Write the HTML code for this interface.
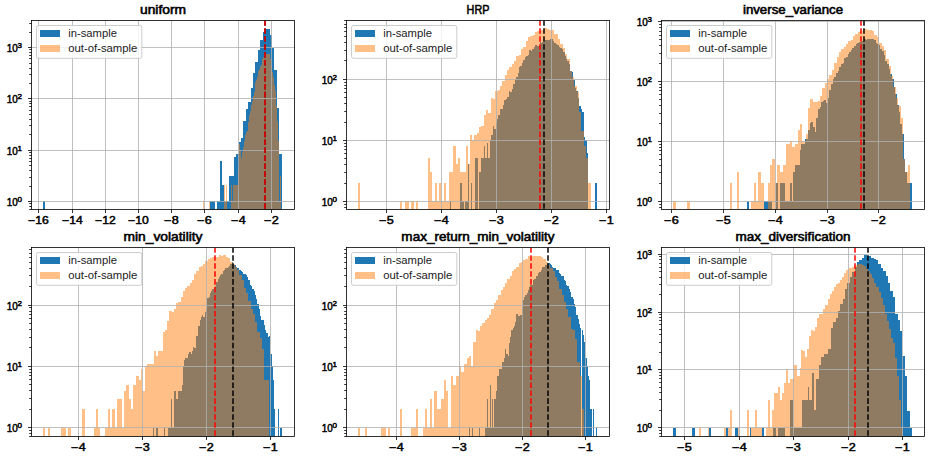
<!DOCTYPE html><html><head><meta charset="utf-8"><style>html,body{margin:0;padding:0;background:#fff}svg{display:block}text{font-family:"Liberation Sans",sans-serif;fill:#000;stroke:#000;stroke-width:0.45px}text.lg{stroke:none;fill:#1c1c1c}text.tt{stroke-width:0.55px}</style></head><body>
<svg width="936" height="456" viewBox="0 0 936 456">
<rect width="936" height="456" fill="#fff"/>
<g>
<clipPath id="c0"><rect x="31.5" y="20.5" width="263" height="189"/></clipPath>
<g clip-path="url(#c0)">
<path d="M43 211.5V201H45V211.5ZM210 211.5V201H212V211.5ZM212 211.5V201H215V211.5ZM217 211.5V201H220V211.5ZM220 211.5V161H222V211.5ZM222 211.5V185H224V211.5ZM224 211.5V201H227V211.5ZM227 211.5V201H229V211.5ZM229 211.5V176H231V211.5ZM231 211.5V176H234V211.5ZM234 211.5V157H236V211.5ZM236 211.5V154H239V211.5ZM239 211.5V142H241V211.5ZM241 211.5V138H243V211.5ZM243 211.5V121H246V211.5ZM246 211.5V109H248V211.5ZM248 211.5V102H251V211.5ZM251 211.5V88H253V211.5ZM253 211.5V73H255V211.5ZM255 211.5V62H258V211.5ZM258 211.5V50H260V211.5ZM260 211.5V40H263V211.5ZM263 211.5V32H265V211.5ZM265 211.5V29H267V211.5ZM267 211.5V29H270V211.5ZM270 211.5V35H272V211.5ZM272 211.5V48H274V211.5ZM274 211.5V70H277V211.5ZM277 211.5V108H279V211.5ZM279 211.5V154H282V211.5Z" fill="#1f77b4"/>
<path d="M238 211.5V170H239V211.5ZM239 211.5V144H240V211.5ZM240 211.5V150H241V211.5ZM241 211.5V158H242V211.5ZM242 211.5V152H243V211.5ZM243 211.5V147H244V211.5ZM244 211.5V141H245V211.5ZM245 211.5V135H246V211.5ZM246 211.5V132H247V211.5ZM247 211.5V131H248V211.5ZM248 211.5V122H249V211.5ZM249 211.5V115H250V211.5ZM250 211.5V111H251V211.5ZM251 211.5V105H252V211.5ZM252 211.5V101H253V211.5ZM253 211.5V96H254V211.5ZM254 211.5V92H255V211.5ZM255 211.5V82H256V211.5ZM256 211.5V80H257V211.5ZM257 211.5V77H258V211.5ZM258 211.5V71H259V211.5ZM259 211.5V69H260V211.5ZM260 211.5V66H261V211.5ZM261 211.5V65H262V211.5ZM262 211.5V59H263V211.5ZM263 211.5V57H264V211.5ZM264 211.5V55H265V211.5ZM265 211.5V54H266V211.5ZM266 211.5V54H267V211.5ZM267 211.5V54H268V211.5ZM268 211.5V54H269V211.5ZM269 211.5V54H270V211.5ZM270 211.5V59H271V211.5ZM271 211.5V65H272V211.5ZM272 211.5V72H273V211.5ZM273 211.5V77H274V211.5ZM274 211.5V85H275V211.5ZM275 211.5V90H276V211.5ZM276 211.5V106H277V211.5ZM277 211.5V121H278V211.5ZM278 211.5V141H279V211.5ZM279 211.5V201H280V211.5ZM280 211.5V176H281V211.5ZM231 211.5V201H238V211.5ZM231 211.5V185H232V211.5ZM233 211.5V185H238V211.5ZM203 211.5V201H204V211.5ZM209 211.5V201H210V211.5ZM224 211.5V201H227V211.5ZM224 211.5V185H225V211.5ZM226 211.5V185H227V211.5Z" fill="#ff7f0e" fill-opacity="0.5"/>
<path d="M38.5 20.5V209.5M72.5 20.5V209.5M105.5 20.5V209.5M138.5 20.5V209.5M171.5 20.5V209.5M204.5 20.5V209.5M238.5 20.5V209.5M271.5 20.5V209.5M31.5 201.5H294.5M31.5 150.5H294.5M31.5 98.5H294.5M31.5 47.5H294.5" stroke="#b0b0b0" stroke-width="0.8" fill="none"/>
<path d="M265 208.7V20.5" stroke="#000" stroke-width="1.5" stroke-dasharray="5.55 2.4" fill="none"/>
<path d="M265 208.7V20.5" stroke="#ff0000" stroke-width="1.5" stroke-dasharray="5.55 2.4" fill="none"/>
</g>
<text x="28.21" y="223.6" font-size="10" textLength="20.57" lengthAdjust="spacingAndGlyphs">−16</text>
<text x="62.21" y="223.6" font-size="10" textLength="20.57" lengthAdjust="spacingAndGlyphs">−14</text>
<text x="95.21" y="223.6" font-size="10" textLength="20.57" lengthAdjust="spacingAndGlyphs">−12</text>
<text x="128.21" y="223.6" font-size="10" textLength="20.57" lengthAdjust="spacingAndGlyphs">−10</text>
<text x="164.31" y="223.6" font-size="10" textLength="14.37" lengthAdjust="spacingAndGlyphs">−8</text>
<text x="197.31" y="223.6" font-size="10" textLength="14.37" lengthAdjust="spacingAndGlyphs">−6</text>
<text x="231.31" y="223.6" font-size="10" textLength="14.37" lengthAdjust="spacingAndGlyphs">−4</text>
<text x="264.31" y="223.6" font-size="10" textLength="14.37" lengthAdjust="spacingAndGlyphs">−2</text>
<text x="6.8" y="206" font-size="10" textLength="11.0" lengthAdjust="spacingAndGlyphs">10</text>
<text x="17.6" y="202" font-size="7" textLength="4.45" lengthAdjust="spacingAndGlyphs">0</text>
<text x="6.8" y="155" font-size="10" textLength="11.0" lengthAdjust="spacingAndGlyphs">10</text>
<text x="17.6" y="151" font-size="7" textLength="4.45" lengthAdjust="spacingAndGlyphs">1</text>
<text x="6.8" y="103" font-size="10" textLength="11.0" lengthAdjust="spacingAndGlyphs">10</text>
<text x="17.6" y="99" font-size="7" textLength="4.45" lengthAdjust="spacingAndGlyphs">2</text>
<text x="6.8" y="52" font-size="10" textLength="11.0" lengthAdjust="spacingAndGlyphs">10</text>
<text x="17.6" y="48" font-size="7" textLength="4.45" lengthAdjust="spacingAndGlyphs">3</text>
<path d="M38.5 209.5v3.5M72.5 209.5v3.5M105.5 209.5v3.5M138.5 209.5v3.5M171.5 209.5v3.5M204.5 209.5v3.5M238.5 209.5v3.5M271.5 209.5v3.5M31.5 201.5h-3.5M31.5 150.5h-3.5M31.5 98.5h-3.5M31.5 47.5h-3.5" stroke="#000" stroke-width="0.8" fill="none"/>
<path d="M31.5 209.5h-2.3M31.5 206.5h-2.3M31.5 203.5h-2.3M31.5 186.5h-2.3M31.5 177.5h-2.3M31.5 170.5h-2.3M31.5 165.5h-2.3M31.5 161.5h-2.3M31.5 158.5h-2.3M31.5 155.5h-2.3M31.5 152.5h-2.3M31.5 134.5h-2.3M31.5 125.5h-2.3M31.5 119.5h-2.3M31.5 114.5h-2.3M31.5 110.5h-2.3M31.5 106.5h-2.3M31.5 103.5h-2.3M31.5 101.5h-2.3M31.5 83.5h-2.3M31.5 74.5h-2.3M31.5 68.5h-2.3M31.5 63.5h-2.3M31.5 58.5h-2.3M31.5 55.5h-2.3M31.5 52.5h-2.3M31.5 49.5h-2.3M31.5 32.5h-2.3M31.5 23.5h-2.3" stroke="#000" stroke-width="0.8" fill="none"/>
<rect x="31.5" y="20.5" width="263" height="189" fill="none" stroke="#000" stroke-width="0.8"/>
<text class="tt" x="139.99" y="14.1" font-size="12" textLength="46.03" lengthAdjust="spacingAndGlyphs">uniform</text>
<rect x="36.5" y="25.5" width="105.3" height="32.8" rx="2" ry="2" fill="#fff" fill-opacity="0.8" stroke="#ccc" stroke-width="1"/>
<rect x="40" y="30" width="20" height="7" fill="#1f77b4"/>
<rect x="40" y="45" width="20" height="7" fill="#ff7f0e" fill-opacity="0.5"/>
<text class="lg" x="68.2" y="36.9" font-size="10" textLength="48.82" lengthAdjust="spacingAndGlyphs">in-sample</text>
<text class="lg" x="68.2" y="51.7" font-size="10" textLength="69.22" lengthAdjust="spacingAndGlyphs">out-of-sample</text>
</g>
<g>
<clipPath id="c1"><rect x="346.5" y="20.5" width="263" height="189"/></clipPath>
<g clip-path="url(#c1)">
<path d="M481 211.5V158H482V211.5ZM482 211.5V158H484V211.5ZM484 211.5V146H485V211.5ZM485 211.5V158H487V211.5ZM487 211.5V143H488V211.5ZM488 211.5V158H490V211.5ZM490 211.5V140H491V211.5ZM491 211.5V135H493V211.5ZM493 211.5V126H494V211.5ZM494 211.5V129H496V211.5ZM496 211.5V123H497V211.5ZM497 211.5V119H498V211.5ZM498 211.5V115H500V211.5ZM500 211.5V109H501V211.5ZM501 211.5V109H503V211.5ZM503 211.5V105H504V211.5ZM504 211.5V100H506V211.5ZM506 211.5V99H507V211.5ZM507 211.5V97H509V211.5ZM509 211.5V91H510V211.5ZM510 211.5V92H512V211.5ZM512 211.5V89H513V211.5ZM513 211.5V84H515V211.5ZM515 211.5V80H516V211.5ZM516 211.5V77H518V211.5ZM518 211.5V73H519V211.5ZM519 211.5V67H520V211.5ZM520 211.5V66H522V211.5ZM522 211.5V63H523V211.5ZM523 211.5V60H525V211.5ZM525 211.5V57H526V211.5ZM526 211.5V56H528V211.5ZM528 211.5V55H529V211.5ZM529 211.5V50H531V211.5ZM531 211.5V51H532V211.5ZM532 211.5V49H534V211.5ZM534 211.5V47H535V211.5ZM535 211.5V45H537V211.5ZM537 211.5V46H538V211.5ZM538 211.5V46H540V211.5ZM540 211.5V42H541V211.5ZM541 211.5V43H542V211.5ZM542 211.5V42H544V211.5ZM544 211.5V41H545V211.5ZM545 211.5V40H547V211.5ZM547 211.5V40H548V211.5ZM548 211.5V40H550V211.5ZM550 211.5V39H551V211.5ZM551 211.5V39H553V211.5ZM553 211.5V41H554V211.5ZM554 211.5V43H556V211.5ZM556 211.5V44H557V211.5ZM557 211.5V45H559V211.5ZM559 211.5V47H560V211.5ZM560 211.5V48H562V211.5ZM562 211.5V49H563V211.5ZM563 211.5V52H565V211.5ZM565 211.5V56H566V211.5ZM566 211.5V59H567V211.5ZM567 211.5V61H569V211.5ZM569 211.5V64H570V211.5ZM570 211.5V71H572V211.5ZM572 211.5V72H573V211.5ZM573 211.5V80H575V211.5ZM575 211.5V88H576V211.5ZM576 211.5V91H578V211.5ZM578 211.5V98H579V211.5ZM579 211.5V106H581V211.5ZM581 211.5V109H582V211.5ZM582 211.5V112H584V211.5ZM584 211.5V137H585V211.5ZM585 211.5V140H587V211.5ZM587 211.5V153H588V211.5ZM450 211.5V201H451V211.5ZM460 211.5V183H462V211.5ZM466 211.5V201H468V211.5ZM462 211.5V201H464V211.5ZM465 211.5V201H466V211.5ZM468 211.5V164H469V211.5ZM471 211.5V183H472V211.5ZM475 211.5V158H478V211.5ZM479 211.5V172H481V211.5ZM595 211.5V183H597V211.5Z" fill="#1f77b4"/>
<path d="M470 211.5V135H472V211.5ZM472 211.5V140H474V211.5ZM474 211.5V135H477V211.5ZM477 211.5V133H479V211.5ZM479 211.5V127H481V211.5ZM481 211.5V126H484V211.5ZM484 211.5V115H486V211.5ZM486 211.5V110H488V211.5ZM488 211.5V113H491V211.5ZM491 211.5V98H493V211.5ZM493 211.5V99H495V211.5ZM495 211.5V91H498V211.5ZM498 211.5V90H500V211.5ZM500 211.5V86H502V211.5ZM502 211.5V81H505V211.5ZM505 211.5V75H507V211.5ZM507 211.5V70H509V211.5ZM509 211.5V67H512V211.5ZM512 211.5V64H514V211.5ZM514 211.5V61H516V211.5ZM516 211.5V56H519V211.5ZM519 211.5V55H521V211.5ZM521 211.5V49H523V211.5ZM523 211.5V47H526V211.5ZM526 211.5V41H528V211.5ZM528 211.5V37H530V211.5ZM530 211.5V36H533V211.5ZM533 211.5V35H535V211.5ZM535 211.5V32H537V211.5ZM537 211.5V31H540V211.5ZM540 211.5V30H542V211.5ZM542 211.5V30H544V211.5ZM544 211.5V28H547V211.5ZM547 211.5V29H549V211.5ZM549 211.5V30H551V211.5ZM551 211.5V30H554V211.5ZM554 211.5V34H556V211.5ZM556 211.5V34H558V211.5ZM558 211.5V39H560V211.5ZM560 211.5V44H563V211.5ZM563 211.5V48H565V211.5ZM565 211.5V54H567V211.5ZM567 211.5V59H570V211.5ZM570 211.5V71H572V211.5ZM572 211.5V77H574V211.5ZM574 211.5V86H577V211.5ZM577 211.5V92H579V211.5ZM579 211.5V112H581V211.5ZM581 211.5V131H584V211.5ZM584 211.5V146H586V211.5ZM586 211.5V158H588V211.5ZM588 211.5V183H591V211.5ZM358 211.5V183H360V211.5ZM428 211.5V158H430V211.5ZM430 211.5V172H432V211.5ZM432 211.5V201H435V211.5ZM435 211.5V183H437V211.5ZM437 211.5V201H439V211.5ZM439 211.5V183H441V211.5ZM441 211.5V201H444V211.5ZM444 211.5V183H446V211.5ZM446 211.5V201H449V211.5ZM449 211.5V172H453V211.5ZM453 211.5V146H456V211.5ZM456 211.5V164H458V211.5ZM458 211.5V158H460V211.5ZM460 211.5V172H466V211.5ZM466 211.5V146H468V211.5ZM468 211.5V164H470V211.5ZM400 211.5V201H402V211.5ZM405 211.5V201H409V211.5ZM411 211.5V201H414V211.5ZM416 211.5V201H418V211.5Z" fill="#ff7f0e" fill-opacity="0.5"/>
<path d="M386.5 20.5V209.5M441.5 20.5V209.5M496.5 20.5V209.5M551.5 20.5V209.5M606.5 20.5V209.5M346.5 201.5H609.5M346.5 140.5H609.5M346.5 79.5H609.5" stroke="#b0b0b0" stroke-width="0.8" fill="none"/>
<path d="M544 208.7V20.5" stroke="#000" stroke-width="1.5" stroke-dasharray="5.55 2.4" fill="none"/>
<path d="M540 208.7V20.5" stroke="#ff0000" stroke-width="1.5" stroke-dasharray="5.55 2.4" fill="none"/>
</g>
<text x="379.31" y="223.6" font-size="10" textLength="14.37" lengthAdjust="spacingAndGlyphs">−5</text>
<text x="434.31" y="223.6" font-size="10" textLength="14.37" lengthAdjust="spacingAndGlyphs">−4</text>
<text x="489.31" y="223.6" font-size="10" textLength="14.37" lengthAdjust="spacingAndGlyphs">−3</text>
<text x="544.31" y="223.6" font-size="10" textLength="14.37" lengthAdjust="spacingAndGlyphs">−2</text>
<text x="599.31" y="223.6" font-size="10" textLength="14.37" lengthAdjust="spacingAndGlyphs">−1</text>
<text x="321.8" y="206" font-size="10" textLength="11.0" lengthAdjust="spacingAndGlyphs">10</text>
<text x="332.6" y="202" font-size="7" textLength="4.45" lengthAdjust="spacingAndGlyphs">0</text>
<text x="321.8" y="145" font-size="10" textLength="11.0" lengthAdjust="spacingAndGlyphs">10</text>
<text x="332.6" y="141" font-size="7" textLength="4.45" lengthAdjust="spacingAndGlyphs">1</text>
<text x="321.8" y="84" font-size="10" textLength="11.0" lengthAdjust="spacingAndGlyphs">10</text>
<text x="332.6" y="80" font-size="7" textLength="4.45" lengthAdjust="spacingAndGlyphs">2</text>
<path d="M386.5 209.5v3.5M441.5 209.5v3.5M496.5 209.5v3.5M551.5 209.5v3.5M606.5 209.5v3.5M346.5 201.5h-3.5M346.5 140.5h-3.5M346.5 79.5h-3.5" stroke="#000" stroke-width="0.8" fill="none"/>
<path d="M346.5 207.5h-2.3M346.5 204.5h-2.3M346.5 183.5h-2.3M346.5 172.5h-2.3M346.5 164.5h-2.3M346.5 158.5h-2.3M346.5 153.5h-2.3M346.5 149.5h-2.3M346.5 146.5h-2.3M346.5 143.5h-2.3M346.5 122.5h-2.3M346.5 111.5h-2.3M346.5 103.5h-2.3M346.5 97.5h-2.3M346.5 92.5h-2.3M346.5 88.5h-2.3M346.5 85.5h-2.3M346.5 82.5h-2.3M346.5 60.5h-2.3M346.5 50.5h-2.3M346.5 42.5h-2.3M346.5 36.5h-2.3M346.5 31.5h-2.3M346.5 27.5h-2.3M346.5 24.5h-2.3M346.5 20.5h-2.3" stroke="#000" stroke-width="0.8" fill="none"/>
<rect x="346.5" y="20.5" width="263" height="189" fill="none" stroke="#000" stroke-width="0.8"/>
<text class="tt" x="466.61" y="14.1" font-size="12" textLength="22.79" lengthAdjust="spacingAndGlyphs">HRP</text>
<rect x="351.5" y="25.5" width="105.3" height="32.8" rx="2" ry="2" fill="#fff" fill-opacity="0.8" stroke="#ccc" stroke-width="1"/>
<rect x="355" y="30" width="20" height="7" fill="#1f77b4"/>
<rect x="355" y="45" width="20" height="7" fill="#ff7f0e" fill-opacity="0.5"/>
<text class="lg" x="383.2" y="36.9" font-size="10" textLength="48.82" lengthAdjust="spacingAndGlyphs">in-sample</text>
<text class="lg" x="383.2" y="51.7" font-size="10" textLength="69.22" lengthAdjust="spacingAndGlyphs">out-of-sample</text>
</g>
<g>
<clipPath id="c2"><rect x="661.5" y="20.5" width="263" height="189"/></clipPath>
<g clip-path="url(#c2)">
<path d="M800 211.5V150H801V211.5ZM801 211.5V144H803V211.5ZM803 211.5V144H805V211.5ZM805 211.5V139H806V211.5ZM806 211.5V139H808V211.5ZM808 211.5V130H810V211.5ZM810 211.5V123H811V211.5ZM811 211.5V122H813V211.5ZM813 211.5V127H815V211.5ZM815 211.5V132H816V211.5ZM816 211.5V118H818V211.5ZM818 211.5V109H820V211.5ZM820 211.5V107H821V211.5ZM821 211.5V102H823V211.5ZM823 211.5V101H824V211.5ZM824 211.5V100H826V211.5ZM826 211.5V103H828V211.5ZM828 211.5V98H829V211.5ZM829 211.5V90H831V211.5ZM831 211.5V84H833V211.5ZM833 211.5V79H834V211.5ZM834 211.5V77H836V211.5ZM836 211.5V73H838V211.5ZM838 211.5V71H839V211.5ZM839 211.5V67H841V211.5ZM841 211.5V64H843V211.5ZM843 211.5V63H844V211.5ZM844 211.5V58H846V211.5ZM846 211.5V57H848V211.5ZM848 211.5V54H849V211.5ZM849 211.5V52H851V211.5ZM851 211.5V50H852V211.5ZM852 211.5V48H854V211.5ZM854 211.5V46H856V211.5ZM856 211.5V44H857V211.5ZM857 211.5V43H859V211.5ZM859 211.5V42H861V211.5ZM861 211.5V42H862V211.5ZM862 211.5V41H864V211.5ZM864 211.5V39H866V211.5ZM866 211.5V40H867V211.5ZM867 211.5V39H869V211.5ZM869 211.5V39H871V211.5ZM871 211.5V39H872V211.5ZM872 211.5V39H874V211.5ZM874 211.5V40H876V211.5ZM876 211.5V43H877V211.5ZM877 211.5V44H879V211.5ZM879 211.5V45H880V211.5ZM880 211.5V49H882V211.5ZM882 211.5V51H884V211.5ZM884 211.5V55H885V211.5ZM885 211.5V61H887V211.5ZM887 211.5V64H889V211.5ZM889 211.5V69H890V211.5ZM890 211.5V74H892V211.5ZM892 211.5V79H894V211.5ZM894 211.5V87H895V211.5ZM895 211.5V94H897V211.5ZM897 211.5V105H899V211.5ZM899 211.5V112H900V211.5ZM900 211.5V124H902V211.5ZM902 211.5V134H904V211.5ZM904 211.5V159H905V211.5ZM905 211.5V172H907V211.5ZM907 211.5V183H909V211.5ZM909 211.5V183H910V211.5ZM747 211.5V201H749V211.5ZM764 211.5V201H772V211.5ZM776 211.5V183H778V211.5ZM780 211.5V183H785V211.5ZM785 211.5V201H790V211.5ZM790 211.5V183H792V211.5ZM792 211.5V201H793V211.5ZM793 211.5V172H795V211.5ZM795 211.5V165H800V211.5ZM910 211.5V183H912V211.5Z" fill="#1f77b4"/>
<path d="M808 211.5V108H810V211.5ZM810 211.5V99H813V211.5ZM813 211.5V102H815V211.5ZM815 211.5V102H818V211.5ZM818 211.5V101H820V211.5ZM820 211.5V96H822V211.5ZM822 211.5V88H825V211.5ZM825 211.5V83H827V211.5ZM827 211.5V79H829V211.5ZM829 211.5V75H832V211.5ZM832 211.5V70H834V211.5ZM834 211.5V63H837V211.5ZM837 211.5V57H839V211.5ZM839 211.5V52H841V211.5ZM841 211.5V49H844V211.5ZM844 211.5V47H846V211.5ZM846 211.5V44H848V211.5ZM848 211.5V41H851V211.5ZM851 211.5V40H853V211.5ZM853 211.5V36H855V211.5ZM855 211.5V34H858V211.5ZM858 211.5V32H860V211.5ZM860 211.5V31H863V211.5ZM863 211.5V29H865V211.5ZM865 211.5V29H867V211.5ZM867 211.5V30H870V211.5ZM870 211.5V30H872V211.5ZM872 211.5V31H874V211.5ZM874 211.5V35H877V211.5ZM877 211.5V37H879V211.5ZM879 211.5V43H882V211.5ZM882 211.5V46H884V211.5ZM884 211.5V50H886V211.5ZM886 211.5V59H889V211.5ZM889 211.5V66H891V211.5ZM891 211.5V76H893V211.5ZM893 211.5V87H896V211.5ZM896 211.5V98H898V211.5ZM898 211.5V106H901V211.5ZM901 211.5V118H903V211.5ZM903 211.5V159H905V211.5ZM905 211.5V172H908V211.5ZM908 211.5V165H910V211.5ZM673 211.5V201H676V211.5ZM687 211.5V201H690V211.5ZM730 211.5V183H732V211.5ZM737 211.5V172H739V211.5ZM751 211.5V201H764V211.5ZM768 211.5V201H772V211.5ZM754 211.5V183H756V211.5ZM758 211.5V172H761V211.5ZM761 211.5V183H764V211.5ZM768 211.5V183H770V211.5ZM770 211.5V165H772V211.5ZM772 211.5V159H775V211.5ZM775 211.5V183H777V211.5ZM777 211.5V165H780V211.5ZM780 211.5V172H783V211.5ZM783 211.5V165H786V211.5ZM786 211.5V144H790V211.5ZM790 211.5V141H792V211.5ZM792 211.5V147H795V211.5ZM795 211.5V144H798V211.5ZM798 211.5V130H800V211.5ZM800 211.5V124H802V211.5ZM802 211.5V141H806V211.5ZM806 211.5V134H809V211.5Z" fill="#ff7f0e" fill-opacity="0.5"/>
<path d="M671.5 20.5V209.5M723.5 20.5V209.5M775.5 20.5V209.5M827.5 20.5V209.5M878.5 20.5V209.5M661.5 201.5H924.5M661.5 141.5H924.5M661.5 81.5H924.5M661.5 21.5H924.5" stroke="#b0b0b0" stroke-width="0.8" fill="none"/>
<path d="M864 208.7V20.5" stroke="#000" stroke-width="1.5" stroke-dasharray="5.55 2.4" fill="none"/>
<path d="M861 208.7V20.5" stroke="#ff0000" stroke-width="1.5" stroke-dasharray="5.55 2.4" fill="none"/>
</g>
<text x="664.31" y="223.6" font-size="10" textLength="14.37" lengthAdjust="spacingAndGlyphs">−6</text>
<text x="716.31" y="223.6" font-size="10" textLength="14.37" lengthAdjust="spacingAndGlyphs">−5</text>
<text x="768.31" y="223.6" font-size="10" textLength="14.37" lengthAdjust="spacingAndGlyphs">−4</text>
<text x="820.31" y="223.6" font-size="10" textLength="14.37" lengthAdjust="spacingAndGlyphs">−3</text>
<text x="871.31" y="223.6" font-size="10" textLength="14.37" lengthAdjust="spacingAndGlyphs">−2</text>
<text x="636.8" y="206" font-size="10" textLength="11.0" lengthAdjust="spacingAndGlyphs">10</text>
<text x="647.6" y="202" font-size="7" textLength="4.45" lengthAdjust="spacingAndGlyphs">0</text>
<text x="636.8" y="146" font-size="10" textLength="11.0" lengthAdjust="spacingAndGlyphs">10</text>
<text x="647.6" y="142" font-size="7" textLength="4.45" lengthAdjust="spacingAndGlyphs">1</text>
<text x="636.8" y="86" font-size="10" textLength="11.0" lengthAdjust="spacingAndGlyphs">10</text>
<text x="647.6" y="82" font-size="7" textLength="4.45" lengthAdjust="spacingAndGlyphs">2</text>
<text x="636.8" y="26" font-size="10" textLength="11.0" lengthAdjust="spacingAndGlyphs">10</text>
<text x="647.6" y="22" font-size="7" textLength="4.45" lengthAdjust="spacingAndGlyphs">3</text>
<path d="M671.5 209.5v3.5M723.5 209.5v3.5M775.5 209.5v3.5M827.5 209.5v3.5M878.5 209.5v3.5M661.5 201.5h-3.5M661.5 141.5h-3.5M661.5 81.5h-3.5M661.5 21.5h-3.5" stroke="#000" stroke-width="0.8" fill="none"/>
<path d="M661.5 207.5h-2.3M661.5 204.5h-2.3M661.5 183.5h-2.3M661.5 172.5h-2.3M661.5 165.5h-2.3M661.5 159.5h-2.3M661.5 154.5h-2.3M661.5 150.5h-2.3M661.5 147.5h-2.3M661.5 144.5h-2.3M661.5 123.5h-2.3M661.5 113.5h-2.3M661.5 105.5h-2.3M661.5 99.5h-2.3M661.5 94.5h-2.3M661.5 90.5h-2.3M661.5 87.5h-2.3M661.5 84.5h-2.3M661.5 63.5h-2.3M661.5 53.5h-2.3M661.5 45.5h-2.3M661.5 39.5h-2.3M661.5 35.5h-2.3M661.5 31.5h-2.3M661.5 27.5h-2.3M661.5 24.5h-2.3" stroke="#000" stroke-width="0.8" fill="none"/>
<rect x="661.5" y="20.5" width="263" height="189" fill="none" stroke="#000" stroke-width="0.8"/>
<text class="tt" x="742.94" y="14.1" font-size="12" textLength="100.11" lengthAdjust="spacingAndGlyphs">inverse_variance</text>
<rect x="666.5" y="25.5" width="105.3" height="32.8" rx="2" ry="2" fill="#fff" fill-opacity="0.8" stroke="#ccc" stroke-width="1"/>
<rect x="670" y="30" width="20" height="7" fill="#1f77b4"/>
<rect x="670" y="45" width="20" height="7" fill="#ff7f0e" fill-opacity="0.5"/>
<text class="lg" x="698.2" y="36.9" font-size="10" textLength="48.82" lengthAdjust="spacingAndGlyphs">in-sample</text>
<text class="lg" x="698.2" y="51.7" font-size="10" textLength="69.22" lengthAdjust="spacingAndGlyphs">out-of-sample</text>
</g>
<g>
<clipPath id="c3"><rect x="31.5" y="247.5" width="263" height="189"/></clipPath>
<g clip-path="url(#c3)">
<path d="M180 438.5V391H182V438.5ZM182 438.5V385H183V438.5ZM183 438.5V366H184V438.5ZM184 438.5V360H185V438.5ZM185 438.5V358H187V438.5ZM187 438.5V358H188V438.5ZM188 438.5V354H189V438.5ZM189 438.5V352H191V438.5ZM191 438.5V354H192V438.5ZM192 438.5V351H193V438.5ZM193 438.5V347H194V438.5ZM194 438.5V348H196V438.5ZM196 438.5V336H197V438.5ZM197 438.5V336H198V438.5ZM198 438.5V326H200V438.5ZM200 438.5V320H201V438.5ZM201 438.5V317H202V438.5ZM202 438.5V315H203V438.5ZM203 438.5V317H205V438.5ZM205 438.5V312H206V438.5ZM206 438.5V309H207V438.5ZM207 438.5V298H209V438.5ZM209 438.5V297H210V438.5ZM210 438.5V293H211V438.5ZM211 438.5V291H212V438.5ZM212 438.5V289H214V438.5ZM214 438.5V288H215V438.5ZM215 438.5V286H216V438.5ZM216 438.5V282H218V438.5ZM218 438.5V279H219V438.5ZM219 438.5V277H220V438.5ZM220 438.5V275H221V438.5ZM221 438.5V274H223V438.5ZM223 438.5V271H224V438.5ZM224 438.5V270H225V438.5ZM225 438.5V268H227V438.5ZM227 438.5V268H228V438.5ZM228 438.5V267H229V438.5ZM229 438.5V266H230V438.5ZM230 438.5V264H232V438.5ZM232 438.5V262H233V438.5ZM233 438.5V264H234V438.5ZM234 438.5V265H236V438.5ZM236 438.5V267H237V438.5ZM237 438.5V268H238V438.5ZM238 438.5V268H239V438.5ZM239 438.5V270H241V438.5ZM241 438.5V271H242V438.5ZM242 438.5V272H243V438.5ZM243 438.5V274H245V438.5ZM245 438.5V274H246V438.5ZM246 438.5V275H247V438.5ZM247 438.5V277H248V438.5ZM248 438.5V280H250V438.5ZM250 438.5V285H251V438.5ZM251 438.5V286H252V438.5ZM252 438.5V289H254V438.5ZM254 438.5V291H255V438.5ZM255 438.5V295H256V438.5ZM256 438.5V299H257V438.5ZM257 438.5V304H259V438.5ZM259 438.5V309H260V438.5ZM260 438.5V316H261V438.5ZM261 438.5V320H263V438.5ZM263 438.5V320H264V438.5ZM264 438.5V325H265V438.5ZM265 438.5V330H266V438.5ZM266 438.5V333H268V438.5ZM268 438.5V337H269V438.5ZM269 438.5V336H270V438.5ZM270 438.5V354H272V438.5ZM272 438.5V366H273V438.5ZM273 438.5V380H274V438.5ZM274 438.5V409H275V438.5ZM153 438.5V428H154V438.5ZM156 438.5V428H158V438.5ZM164 438.5V428H165V438.5ZM168 438.5V428H180V438.5ZM171 438.5V399H172V438.5ZM174 438.5V391H176V438.5ZM176 438.5V399H178V438.5ZM178 438.5V391H180V438.5ZM278 438.5V409H279V438.5ZM280 438.5V428H282V438.5Z" fill="#1f77b4"/>
<path d="M145 438.5V366H147V438.5ZM147 438.5V364H149V438.5ZM149 438.5V364H151V438.5ZM151 438.5V364H154V438.5ZM154 438.5V351H156V438.5ZM156 438.5V356H158V438.5ZM158 438.5V351H160V438.5ZM160 438.5V351H163V438.5ZM163 438.5V332H165V438.5ZM165 438.5V330H167V438.5ZM167 438.5V321H169V438.5ZM169 438.5V311H172V438.5ZM172 438.5V312H174V438.5ZM174 438.5V309H176V438.5ZM176 438.5V303H178V438.5ZM178 438.5V302H181V438.5ZM181 438.5V297H183V438.5ZM183 438.5V291H185V438.5ZM185 438.5V288H187V438.5ZM187 438.5V286H190V438.5ZM190 438.5V283H192V438.5ZM192 438.5V280H194V438.5ZM194 438.5V274H196V438.5ZM196 438.5V271H199V438.5ZM199 438.5V267H201V438.5ZM201 438.5V266H203V438.5ZM203 438.5V264H205V438.5ZM205 438.5V261H208V438.5ZM208 438.5V259H210V438.5ZM210 438.5V258H212V438.5ZM212 438.5V257H214V438.5ZM214 438.5V257H217V438.5ZM217 438.5V257H219V438.5ZM219 438.5V255H221V438.5ZM221 438.5V256H223V438.5ZM223 438.5V255H226V438.5ZM226 438.5V257H228V438.5ZM228 438.5V258H230V438.5ZM230 438.5V262H233V438.5ZM233 438.5V264H235V438.5ZM235 438.5V267H237V438.5ZM237 438.5V270H239V438.5ZM239 438.5V275H242V438.5ZM242 438.5V280H244V438.5ZM244 438.5V288H246V438.5ZM246 438.5V293H248V438.5ZM248 438.5V301H251V438.5ZM251 438.5V309H253V438.5ZM253 438.5V314H255V438.5ZM255 438.5V322H257V438.5ZM257 438.5V332H260V438.5ZM260 438.5V338H262V438.5ZM262 438.5V349H264V438.5ZM264 438.5V380H266V438.5ZM266 438.5V380H269V438.5ZM43 438.5V428H45V438.5ZM48 438.5V428H50V438.5ZM61 438.5V428H66V438.5ZM68 438.5V428H71V438.5ZM70 438.5V428H71V438.5ZM82 438.5V409H85V438.5ZM94 438.5V428H100V438.5ZM96 438.5V409H98V438.5ZM105 438.5V428H145V438.5ZM108 438.5V409H110V438.5ZM112 438.5V409H115V438.5ZM117 438.5V399H122V438.5ZM124 438.5V391H126V438.5ZM126 438.5V385H129V438.5ZM129 438.5V399H131V438.5ZM131 438.5V409H133V438.5ZM133 438.5V385H136V438.5ZM136 438.5V376H139V438.5ZM139 438.5V380H141V438.5ZM141 438.5V369H142V438.5ZM142 438.5V391H145V438.5Z" fill="#ff7f0e" fill-opacity="0.5"/>
<path d="M78.5 247.5V436.5M142.5 247.5V436.5M206.5 247.5V436.5M270.5 247.5V436.5M31.5 427.5H294.5M31.5 366.5H294.5M31.5 305.5H294.5" stroke="#b0b0b0" stroke-width="0.8" fill="none"/>
<path d="M233 435.7V247.5" stroke="#000" stroke-width="1.5" stroke-dasharray="5.55 2.4" fill="none"/>
<path d="M215 435.7V247.5" stroke="#ff0000" stroke-width="1.5" stroke-dasharray="5.55 2.4" fill="none"/>
</g>
<text x="71.31" y="450.6" font-size="10" textLength="14.37" lengthAdjust="spacingAndGlyphs">−4</text>
<text x="135.31" y="450.6" font-size="10" textLength="14.37" lengthAdjust="spacingAndGlyphs">−3</text>
<text x="199.31" y="450.6" font-size="10" textLength="14.37" lengthAdjust="spacingAndGlyphs">−2</text>
<text x="263.31" y="450.6" font-size="10" textLength="14.37" lengthAdjust="spacingAndGlyphs">−1</text>
<text x="6.8" y="432" font-size="10" textLength="11.0" lengthAdjust="spacingAndGlyphs">10</text>
<text x="17.6" y="428" font-size="7" textLength="4.45" lengthAdjust="spacingAndGlyphs">0</text>
<text x="6.8" y="371" font-size="10" textLength="11.0" lengthAdjust="spacingAndGlyphs">10</text>
<text x="17.6" y="367" font-size="7" textLength="4.45" lengthAdjust="spacingAndGlyphs">1</text>
<text x="6.8" y="310" font-size="10" textLength="11.0" lengthAdjust="spacingAndGlyphs">10</text>
<text x="17.6" y="306" font-size="7" textLength="4.45" lengthAdjust="spacingAndGlyphs">2</text>
<path d="M78.5 436.5v3.5M142.5 436.5v3.5M206.5 436.5v3.5M270.5 436.5v3.5M31.5 427.5h-3.5M31.5 366.5h-3.5M31.5 305.5h-3.5" stroke="#000" stroke-width="0.8" fill="none"/>
<path d="M31.5 436.5h-2.3M31.5 433.5h-2.3M31.5 430.5h-2.3M31.5 409.5h-2.3M31.5 398.5h-2.3M31.5 390.5h-2.3M31.5 384.5h-2.3M31.5 379.5h-2.3M31.5 375.5h-2.3M31.5 372.5h-2.3M31.5 369.5h-2.3M31.5 347.5h-2.3M31.5 337.5h-2.3M31.5 329.5h-2.3M31.5 323.5h-2.3M31.5 318.5h-2.3M31.5 314.5h-2.3M31.5 311.5h-2.3M31.5 307.5h-2.3M31.5 286.5h-2.3M31.5 275.5h-2.3M31.5 268.5h-2.3M31.5 262.5h-2.3M31.5 257.5h-2.3M31.5 253.5h-2.3M31.5 249.5h-2.3" stroke="#000" stroke-width="0.8" fill="none"/>
<rect x="31.5" y="247.5" width="263" height="189" fill="none" stroke="#000" stroke-width="0.8"/>
<text class="tt" x="123.47" y="241.1" font-size="12" textLength="79.07" lengthAdjust="spacingAndGlyphs">min_volatility</text>
<rect x="36.5" y="252.5" width="105.3" height="32.8" rx="2" ry="2" fill="#fff" fill-opacity="0.8" stroke="#ccc" stroke-width="1"/>
<rect x="40" y="257" width="20" height="7" fill="#1f77b4"/>
<rect x="40" y="272" width="20" height="7" fill="#ff7f0e" fill-opacity="0.5"/>
<text class="lg" x="68.2" y="263.9" font-size="10" textLength="48.82" lengthAdjust="spacingAndGlyphs">in-sample</text>
<text class="lg" x="68.2" y="278.7" font-size="10" textLength="69.22" lengthAdjust="spacingAndGlyphs">out-of-sample</text>
</g>
<g>
<clipPath id="c4"><rect x="346.5" y="247.5" width="263" height="189"/></clipPath>
<g clip-path="url(#c4)">
<path d="M496 438.5V391H497V438.5ZM497 438.5V376H499V438.5ZM499 438.5V369H500V438.5ZM500 438.5V369H501V438.5ZM501 438.5V369H502V438.5ZM502 438.5V362H504V438.5ZM504 438.5V358H505V438.5ZM505 438.5V349H506V438.5ZM506 438.5V354H508V438.5ZM508 438.5V356H509V438.5ZM509 438.5V343H510V438.5ZM510 438.5V337H511V438.5ZM511 438.5V330H513V438.5ZM513 438.5V328H514V438.5ZM514 438.5V326H515V438.5ZM515 438.5V322H516V438.5ZM516 438.5V314H518V438.5ZM518 438.5V316H519V438.5ZM519 438.5V316H520V438.5ZM520 438.5V315H522V438.5ZM522 438.5V307H523V438.5ZM523 438.5V300H524V438.5ZM524 438.5V297H525V438.5ZM525 438.5V295H527V438.5ZM527 438.5V293H528V438.5ZM528 438.5V290H529V438.5ZM529 438.5V287H530V438.5ZM530 438.5V285H532V438.5ZM532 438.5V285H533V438.5ZM533 438.5V280H534V438.5ZM534 438.5V279H536V438.5ZM536 438.5V276H537V438.5ZM537 438.5V276H538V438.5ZM538 438.5V273H539V438.5ZM539 438.5V272H541V438.5ZM541 438.5V270H542V438.5ZM542 438.5V267H543V438.5ZM543 438.5V267H545V438.5ZM545 438.5V265H546V438.5ZM546 438.5V265H547V438.5ZM547 438.5V263H548V438.5ZM548 438.5V263H550V438.5ZM550 438.5V264H551V438.5ZM551 438.5V265H552V438.5ZM552 438.5V267H553V438.5ZM553 438.5V268H555V438.5ZM555 438.5V268H556V438.5ZM556 438.5V270H557V438.5ZM557 438.5V270H559V438.5ZM559 438.5V273H560V438.5ZM560 438.5V274H561V438.5ZM561 438.5V276H562V438.5ZM562 438.5V276H564V438.5ZM564 438.5V280H565V438.5ZM565 438.5V281H566V438.5ZM566 438.5V285H567V438.5ZM567 438.5V286H569V438.5ZM569 438.5V289H570V438.5ZM570 438.5V292H571V438.5ZM571 438.5V297H573V438.5ZM573 438.5V299H574V438.5ZM574 438.5V304H575V438.5ZM575 438.5V307H576V438.5ZM576 438.5V315H578V438.5ZM578 438.5V319H579V438.5ZM579 438.5V324H580V438.5ZM580 438.5V328H581V438.5ZM582 438.5V330H583V438.5ZM583 438.5V335H584V438.5ZM584 438.5V342H585V438.5ZM585 438.5V358H587V438.5ZM587 438.5V366H588V438.5ZM588 438.5V376H589V438.5ZM589 438.5V380H590V438.5ZM590 438.5V409H592V438.5ZM469 438.5V428H470V438.5ZM472 438.5V428H473V438.5ZM479 438.5V428H480V438.5ZM485 438.5V428H496V438.5ZM487 438.5V399H488V438.5ZM490 438.5V385H491V438.5ZM492 438.5V399H493V438.5ZM494 438.5V399H496V438.5ZM593 438.5V409H594V438.5ZM596 438.5V428H597V438.5Z" fill="#1f77b4"/>
<path d="M464 438.5V364H467V438.5ZM467 438.5V358H469V438.5ZM469 438.5V356H471V438.5ZM471 438.5V366H473V438.5ZM473 438.5V342H476V438.5ZM476 438.5V330H478V438.5ZM478 438.5V331H480V438.5ZM480 438.5V326H482V438.5ZM482 438.5V323H485V438.5ZM485 438.5V320H487V438.5ZM487 438.5V318H489V438.5ZM489 438.5V315H491V438.5ZM491 438.5V309H494V438.5ZM494 438.5V303H496V438.5ZM496 438.5V300H498V438.5ZM498 438.5V295H501V438.5ZM501 438.5V290H503V438.5ZM503 438.5V287H505V438.5ZM505 438.5V283H507V438.5ZM507 438.5V279H510V438.5ZM510 438.5V276H512V438.5ZM512 438.5V271H514V438.5ZM514 438.5V269H516V438.5ZM516 438.5V267H519V438.5ZM519 438.5V263H521V438.5ZM521 438.5V262H523V438.5ZM523 438.5V260H525V438.5ZM525 438.5V259H528V438.5ZM528 438.5V256H530V438.5ZM530 438.5V257H532V438.5ZM532 438.5V256H534V438.5ZM534 438.5V256H537V438.5ZM537 438.5V256H539V438.5ZM539 438.5V256H541V438.5ZM541 438.5V257H543V438.5ZM543 438.5V259H546V438.5ZM546 438.5V262H548V438.5ZM548 438.5V265H550V438.5ZM550 438.5V268H553V438.5ZM553 438.5V271H555V438.5ZM555 438.5V277H557V438.5ZM557 438.5V281H559V438.5ZM559 438.5V289H562V438.5ZM562 438.5V295H564V438.5ZM564 438.5V302H566V438.5ZM566 438.5V309H568V438.5ZM568 438.5V317H571V438.5ZM571 438.5V329H573V438.5ZM573 438.5V330H575V438.5ZM575 438.5V339H577V438.5ZM577 438.5V362H580V438.5ZM580 438.5V376H582V438.5ZM582 438.5V409H584V438.5ZM358 438.5V428H360V438.5ZM365 438.5V428H367V438.5ZM381 438.5V428H386V438.5ZM388 438.5V428H390V438.5ZM385 438.5V428H386V438.5ZM388 438.5V428H390V438.5ZM400 438.5V409H402V438.5ZM411 438.5V428H418V438.5ZM416 438.5V409H418V438.5ZM423 438.5V428H464V438.5ZM425 438.5V409H427V438.5ZM430 438.5V399H432V438.5ZM434 438.5V391H437V438.5ZM437 438.5V409H441V438.5ZM441 438.5V399H444V438.5ZM444 438.5V380H446V438.5ZM446 438.5V391H448V438.5ZM451 438.5V376H453V438.5ZM453 438.5V385H456V438.5ZM456 438.5V376H459V438.5ZM459 438.5V366H461V438.5ZM461 438.5V372H464V438.5Z" fill="#ff7f0e" fill-opacity="0.5"/>
<path d="M396.5 247.5V436.5M459.5 247.5V436.5M522.5 247.5V436.5M585.5 247.5V436.5M346.5 427.5H609.5M346.5 366.5H609.5M346.5 305.5H609.5" stroke="#b0b0b0" stroke-width="0.8" fill="none"/>
<path d="M548 435.7V247.5" stroke="#000" stroke-width="1.5" stroke-dasharray="5.55 2.4" fill="none"/>
<path d="M531 435.7V247.5" stroke="#ff0000" stroke-width="1.5" stroke-dasharray="5.55 2.4" fill="none"/>
</g>
<text x="389.31" y="450.6" font-size="10" textLength="14.37" lengthAdjust="spacingAndGlyphs">−4</text>
<text x="452.31" y="450.6" font-size="10" textLength="14.37" lengthAdjust="spacingAndGlyphs">−3</text>
<text x="515.31" y="450.6" font-size="10" textLength="14.37" lengthAdjust="spacingAndGlyphs">−2</text>
<text x="578.31" y="450.6" font-size="10" textLength="14.37" lengthAdjust="spacingAndGlyphs">−1</text>
<text x="321.8" y="432" font-size="10" textLength="11.0" lengthAdjust="spacingAndGlyphs">10</text>
<text x="332.6" y="428" font-size="7" textLength="4.45" lengthAdjust="spacingAndGlyphs">0</text>
<text x="321.8" y="371" font-size="10" textLength="11.0" lengthAdjust="spacingAndGlyphs">10</text>
<text x="332.6" y="367" font-size="7" textLength="4.45" lengthAdjust="spacingAndGlyphs">1</text>
<text x="321.8" y="310" font-size="10" textLength="11.0" lengthAdjust="spacingAndGlyphs">10</text>
<text x="332.6" y="306" font-size="7" textLength="4.45" lengthAdjust="spacingAndGlyphs">2</text>
<path d="M396.5 436.5v3.5M459.5 436.5v3.5M522.5 436.5v3.5M585.5 436.5v3.5M346.5 427.5h-3.5M346.5 366.5h-3.5M346.5 305.5h-3.5" stroke="#000" stroke-width="0.8" fill="none"/>
<path d="M346.5 436.5h-2.3M346.5 433.5h-2.3M346.5 430.5h-2.3M346.5 409.5h-2.3M346.5 398.5h-2.3M346.5 390.5h-2.3M346.5 384.5h-2.3M346.5 379.5h-2.3M346.5 375.5h-2.3M346.5 372.5h-2.3M346.5 369.5h-2.3M346.5 347.5h-2.3M346.5 337.5h-2.3M346.5 329.5h-2.3M346.5 323.5h-2.3M346.5 318.5h-2.3M346.5 314.5h-2.3M346.5 311.5h-2.3M346.5 307.5h-2.3M346.5 286.5h-2.3M346.5 275.5h-2.3M346.5 268.5h-2.3M346.5 262.5h-2.3M346.5 257.5h-2.3M346.5 253.5h-2.3M346.5 249.5h-2.3" stroke="#000" stroke-width="0.8" fill="none"/>
<rect x="346.5" y="247.5" width="263" height="189" fill="none" stroke="#000" stroke-width="0.8"/>
<text class="tt" x="401.38" y="241.1" font-size="12" textLength="153.23" lengthAdjust="spacingAndGlyphs">max_return_min_volatility</text>
<rect x="351.5" y="252.5" width="105.3" height="32.8" rx="2" ry="2" fill="#fff" fill-opacity="0.8" stroke="#ccc" stroke-width="1"/>
<rect x="355" y="257" width="20" height="7" fill="#1f77b4"/>
<rect x="355" y="272" width="20" height="7" fill="#ff7f0e" fill-opacity="0.5"/>
<text class="lg" x="383.2" y="263.9" font-size="10" textLength="48.82" lengthAdjust="spacingAndGlyphs">in-sample</text>
<text class="lg" x="383.2" y="278.7" font-size="10" textLength="69.22" lengthAdjust="spacingAndGlyphs">out-of-sample</text>
</g>
<g>
<clipPath id="c5"><rect x="661.5" y="247.5" width="263" height="189"/></clipPath>
<g clip-path="url(#c5)">
<path d="M819 438.5V365H821V438.5ZM821 438.5V357H824V438.5ZM824 438.5V354H826V438.5ZM826 438.5V354H828V438.5ZM828 438.5V349H831V438.5ZM831 438.5V328H833V438.5ZM833 438.5V322H836V438.5ZM836 438.5V318H838V438.5ZM838 438.5V311H840V438.5ZM840 438.5V304H843V438.5ZM843 438.5V299H845V438.5ZM845 438.5V289H847V438.5ZM847 438.5V283H850V438.5ZM850 438.5V277H852V438.5ZM852 438.5V272H855V438.5ZM855 438.5V267H857V438.5ZM857 438.5V262H859V438.5ZM859 438.5V260H862V438.5ZM862 438.5V258H864V438.5ZM864 438.5V255H867V438.5ZM867 438.5V256H869V438.5ZM869 438.5V256H871V438.5ZM871 438.5V258H874V438.5ZM874 438.5V259H876V438.5ZM876 438.5V260H878V438.5ZM878 438.5V264H881V438.5ZM881 438.5V268H883V438.5ZM883 438.5V271H886V438.5ZM886 438.5V276H888V438.5ZM888 438.5V283H890V438.5ZM890 438.5V291H893V438.5ZM893 438.5V297H895V438.5ZM895 438.5V314H898V438.5ZM898 438.5V320H900V438.5ZM900 438.5V331H902V438.5ZM902 438.5V356H905V438.5ZM905 438.5V376H907V438.5ZM907 438.5V411H910V438.5ZM910 438.5V428H912V438.5ZM673 438.5V428H676V438.5ZM692 438.5V428H695V438.5ZM709 438.5V428H711V438.5ZM726 438.5V428H728V438.5ZM735 438.5V428H738V438.5ZM750 438.5V428H751V438.5ZM762 438.5V428H764V438.5ZM773 438.5V428H776V438.5ZM778 438.5V428H785V438.5ZM790 438.5V400H793V438.5ZM774 438.5V428H776V438.5ZM778 438.5V428H785V438.5ZM790 438.5V400H793V438.5ZM793 438.5V428H802V438.5ZM802 438.5V400H808V438.5ZM808 438.5V387H809V438.5ZM809 438.5V400H812V438.5ZM812 438.5V373H814V438.5ZM814 438.5V410H816V438.5ZM816 438.5V379H820V438.5Z" fill="#1f77b4"/>
<path d="M801 438.5V350H803V438.5ZM803 438.5V351H805V438.5ZM805 438.5V357H807V438.5ZM807 438.5V349H809V438.5ZM809 438.5V336H811V438.5ZM811 438.5V330H813V438.5ZM813 438.5V331H815V438.5ZM815 438.5V327H817V438.5ZM817 438.5V318H819V438.5ZM819 438.5V314H821V438.5ZM821 438.5V314H823V438.5ZM823 438.5V309H825V438.5ZM825 438.5V305H828V438.5ZM828 438.5V299H830V438.5ZM830 438.5V294H832V438.5ZM832 438.5V291H834V438.5ZM834 438.5V287H836V438.5ZM836 438.5V284H838V438.5ZM838 438.5V283H840V438.5ZM840 438.5V280H842V438.5ZM842 438.5V277H844V438.5ZM844 438.5V273H846V438.5ZM846 438.5V270H848V438.5ZM848 438.5V268H850V438.5ZM850 438.5V268H852V438.5ZM852 438.5V267H854V438.5ZM854 438.5V266H856V438.5ZM856 438.5V265H858V438.5ZM858 438.5V264H860V438.5ZM860 438.5V264H862V438.5ZM862 438.5V265H864V438.5ZM864 438.5V266H866V438.5ZM866 438.5V269H868V438.5ZM868 438.5V271H870V438.5ZM870 438.5V274H872V438.5ZM872 438.5V278H874V438.5ZM874 438.5V283H876V438.5ZM876 438.5V287H879V438.5ZM879 438.5V292H881V438.5ZM881 438.5V298H883V438.5ZM883 438.5V305H885V438.5ZM885 438.5V314H887V438.5ZM887 438.5V321H889V438.5ZM889 438.5V329H891V438.5ZM891 438.5V338H893V438.5ZM893 438.5V343H895V438.5ZM895 438.5V358H897V438.5ZM897 438.5V376H899V438.5ZM899 438.5V400H901V438.5ZM901 438.5V428H903V438.5ZM699 438.5V428H701V438.5ZM708 438.5V428H709V438.5ZM724 438.5V428H726V438.5ZM728 438.5V428H732V438.5ZM730 438.5V410H732V438.5ZM738 438.5V428H739V438.5ZM747 438.5V410H749V438.5ZM751 438.5V428H762V438.5ZM755 438.5V410H757V438.5ZM766 438.5V428H801V438.5ZM768 438.5V400H770V438.5ZM772 438.5V410H774V438.5ZM774 438.5V393H778V438.5ZM778 438.5V387H780V438.5ZM780 438.5V400H782V438.5ZM782 438.5V393H784V438.5ZM784 438.5V383H786V438.5ZM786 438.5V370H788V438.5ZM788 438.5V383H790V438.5ZM790 438.5V379H794V438.5ZM794 438.5V365H797V438.5ZM797 438.5V376H800V438.5ZM800 438.5V368H801V438.5Z" fill="#ff7f0e" fill-opacity="0.5"/>
<path d="M684.5 247.5V436.5M739.5 247.5V436.5M793.5 247.5V436.5M848.5 247.5V436.5M902.5 247.5V436.5M661.5 427.5H924.5M661.5 369.5H924.5M661.5 312.5H924.5M661.5 254.5H924.5" stroke="#b0b0b0" stroke-width="0.8" fill="none"/>
<path d="M868 435.7V247.5" stroke="#000" stroke-width="1.5" stroke-dasharray="5.55 2.4" fill="none"/>
<path d="M855 435.7V247.5" stroke="#ff0000" stroke-width="1.5" stroke-dasharray="5.55 2.4" fill="none"/>
</g>
<text x="677.31" y="450.6" font-size="10" textLength="14.37" lengthAdjust="spacingAndGlyphs">−5</text>
<text x="732.31" y="450.6" font-size="10" textLength="14.37" lengthAdjust="spacingAndGlyphs">−4</text>
<text x="786.31" y="450.6" font-size="10" textLength="14.37" lengthAdjust="spacingAndGlyphs">−3</text>
<text x="841.31" y="450.6" font-size="10" textLength="14.37" lengthAdjust="spacingAndGlyphs">−2</text>
<text x="895.31" y="450.6" font-size="10" textLength="14.37" lengthAdjust="spacingAndGlyphs">−1</text>
<text x="636.8" y="432" font-size="10" textLength="11.0" lengthAdjust="spacingAndGlyphs">10</text>
<text x="647.6" y="428" font-size="7" textLength="4.45" lengthAdjust="spacingAndGlyphs">0</text>
<text x="636.8" y="374" font-size="10" textLength="11.0" lengthAdjust="spacingAndGlyphs">10</text>
<text x="647.6" y="370" font-size="7" textLength="4.45" lengthAdjust="spacingAndGlyphs">1</text>
<text x="636.8" y="317" font-size="10" textLength="11.0" lengthAdjust="spacingAndGlyphs">10</text>
<text x="647.6" y="313" font-size="7" textLength="4.45" lengthAdjust="spacingAndGlyphs">2</text>
<text x="636.8" y="259" font-size="10" textLength="11.0" lengthAdjust="spacingAndGlyphs">10</text>
<text x="647.6" y="255" font-size="7" textLength="4.45" lengthAdjust="spacingAndGlyphs">3</text>
<path d="M684.5 436.5v3.5M739.5 436.5v3.5M793.5 436.5v3.5M848.5 436.5v3.5M902.5 436.5v3.5M661.5 427.5h-3.5M661.5 369.5h-3.5M661.5 312.5h-3.5M661.5 254.5h-3.5" stroke="#000" stroke-width="0.8" fill="none"/>
<path d="M661.5 436.5h-2.3M661.5 433.5h-2.3M661.5 430.5h-2.3M661.5 410.5h-2.3M661.5 399.5h-2.3M661.5 392.5h-2.3M661.5 387.5h-2.3M661.5 382.5h-2.3M661.5 378.5h-2.3M661.5 375.5h-2.3M661.5 372.5h-2.3M661.5 352.5h-2.3M661.5 342.5h-2.3M661.5 334.5h-2.3M661.5 329.5h-2.3M661.5 324.5h-2.3M661.5 320.5h-2.3M661.5 317.5h-2.3M661.5 314.5h-2.3M661.5 294.5h-2.3M661.5 284.5h-2.3M661.5 277.5h-2.3M661.5 271.5h-2.3M661.5 267.5h-2.3M661.5 263.5h-2.3M661.5 259.5h-2.3M661.5 256.5h-2.3" stroke="#000" stroke-width="0.8" fill="none"/>
<rect x="661.5" y="247.5" width="263" height="189" fill="none" stroke="#000" stroke-width="0.8"/>
<text class="tt" x="735.58" y="241.1" font-size="12" textLength="114.84" lengthAdjust="spacingAndGlyphs">max_diversification</text>
<rect x="666.5" y="252.5" width="105.3" height="32.8" rx="2" ry="2" fill="#fff" fill-opacity="0.8" stroke="#ccc" stroke-width="1"/>
<rect x="670" y="257" width="20" height="7" fill="#1f77b4"/>
<rect x="670" y="272" width="20" height="7" fill="#ff7f0e" fill-opacity="0.5"/>
<text class="lg" x="698.2" y="263.9" font-size="10" textLength="48.82" lengthAdjust="spacingAndGlyphs">in-sample</text>
<text class="lg" x="698.2" y="278.7" font-size="10" textLength="69.22" lengthAdjust="spacingAndGlyphs">out-of-sample</text>
</g>
</svg></body></html>
